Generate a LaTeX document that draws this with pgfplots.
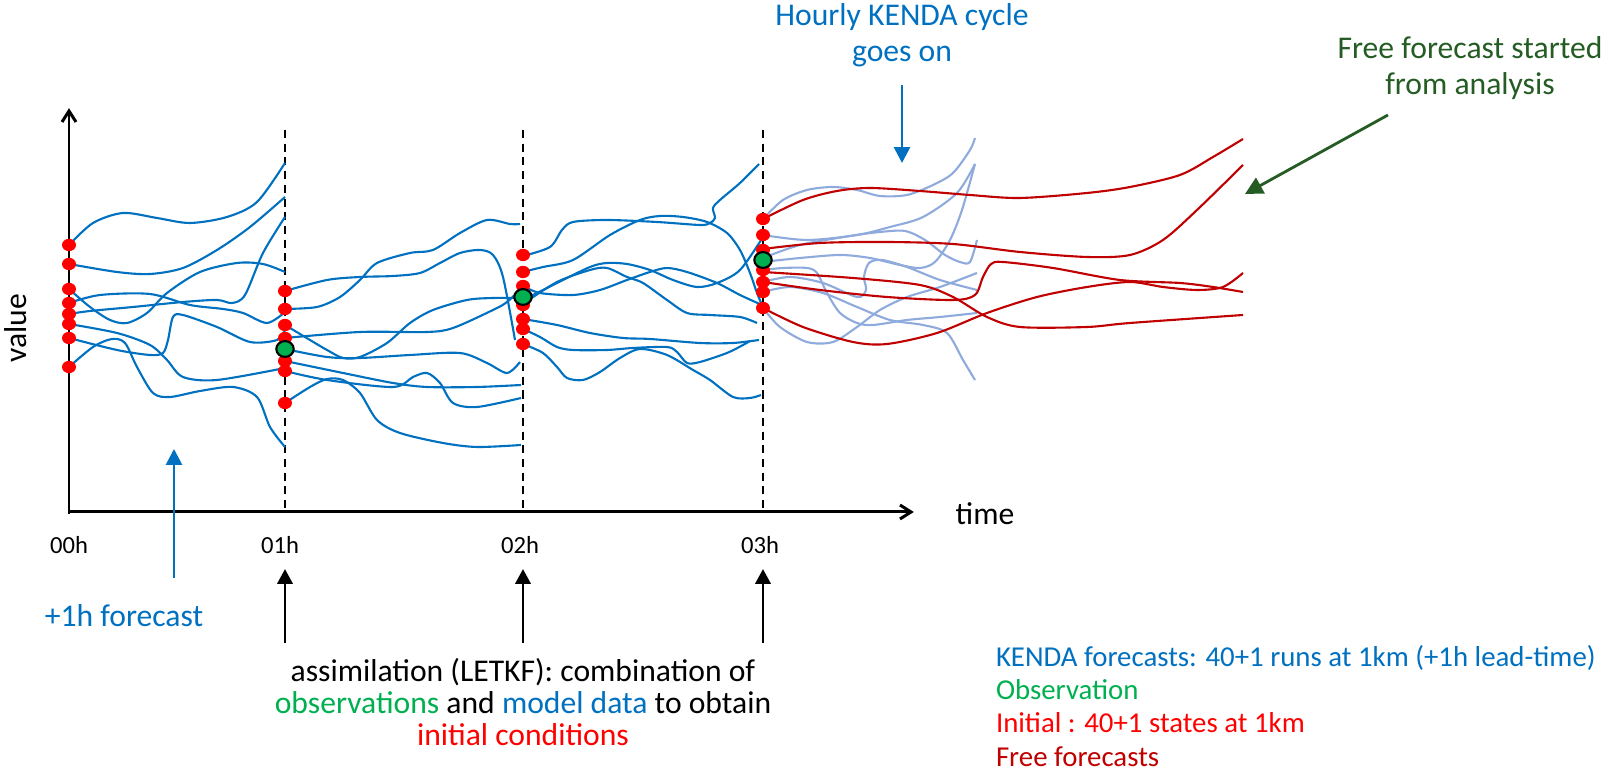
\documentclass[border=0pt]{standalone}
\usepackage{pgfplots}
\pgfplotsset{compat=1.18}
\usepackage{fontspec}
\setmainfont{Carlito}
\usetikzlibrary{arrows.meta}

\definecolor{kblue}{RGB}{0,112,192}
\definecolor{lblue}{RGB}{143,170,220}
\definecolor{fred}{RGB}{192,0,0}
\definecolor{rdot}{RGB}{255,0,0}
\definecolor{gobs}{RGB}{0,176,80}
\definecolor{dgreen}{RGB}{36,92,36}

\newcommand\fA{\fontsize{9}{10.5}\selectfont}
\newcommand\fT{\fontsize{7}{8}\selectfont}
\newcommand\fL{\fontsize{8.2}{9.4}\selectfont}

\begin{document}
\begin{tikzpicture}[every node/.style={inner sep=0pt, outer sep=0pt}]
\begin{axis}[
  width=16.18cm, height=7.74cm, scale only axis,
  xmin=0, xmax=1618, ymin=0, ymax=774, y dir=reverse,
  hide axis, clip=false,
  kenda/.style={kblue, smooth, line width=0.6pt, no markers},
  pale/.style={lblue, smooth, line width=0.6pt, no markers},
  free/.style={fred, smooth, line width=0.6pt, no markers},
]
% whole canvas
\path (axis cs:0,0) rectangle (axis cs:1618,774);
% time axis and value axis
\draw[line width=0.85pt] (axis cs:69,514) -- (axis cs:69,111);
\draw[line width=0.85pt] (axis cs:68,512) -- (axis cs:911,512);
\draw[line width=0.85pt] (axis cs:62,122) -- (axis cs:69,111) -- (axis cs:76,122);
\draw[line width=0.85pt] (axis cs:900,505) -- (axis cs:911,512) -- (axis cs:900,519);
% analysis times
\pgfplotsinvokeforeach{285,523,763}{
  \draw[line width=0.6pt, dash pattern=on 2.3pt off 1.6pt] (axis cs:#1,130) -- (axis cs:#1,511);
}

% 00h -> 01h
\addplot[kenda] coordinates {(69,245) (93,223) (123,213) (157,218) (190,223) (227,217) (257,202) (285,163)};
\addplot[kenda] coordinates {(69,264) (117,272) (150,274) (183,268) (217,250) (250,227) (285,197)};
\addplot[kenda] coordinates {(69,314) (90,311) (133,307) (183,302) (217,300) (232,303) (245,295) (263,253) (285,217)};
\addplot[kenda] coordinates {(69,289) (90,307) (110,320) (127,323) (147,313) (167,293) (200,272) (237,263) (263,264) (285,272)};
\addplot[kenda] coordinates {(69,303) (100,295) (150,294) (190,305) (223,309) (243,313) (267,323) (285,312)};
\addplot[kenda] coordinates {(69,324) (117,333) (150,345) (167,360) (183,377) (217,380) (285,368)};
\addplot[kenda] coordinates {(69,338) (117,350) (150,355) (163,353) (168,340) (173,317) (183,315) (217,327) (250,342) (277,340) (285,330)};
\addplot[kenda] coordinates {(69,367) (93,347) (112,339) (125,343) (137,367) (153,393) (170,397) (200,391) (233,387) (257,397) (270,427) (285,447)};

% 01h -> 02h
\addplot[kenda] coordinates {(285,291) (327,280) (360,277) (393,276) (420,273) (440,263) (460,253) (480,250) (493,255) (503,277) (515,340)};
\addplot[kenda] coordinates {(285,309) (317,307) (340,297) (360,280) (377,263) (410,253) (433,250) (460,233) (487,220) (510,224) (520,224)};
\addplot[kenda] coordinates {(285,325) (310,340) (327,350) (343,358) (360,357) (387,343) (410,323) (433,310) (467,300) (493,298) (523,298)};
\addplot[kenda] coordinates {(285,338) (360,332) (427,332) (453,328) (493,310) (507,302) (523,287)};
\addplot[kenda] coordinates {(285,349) (327,357) (360,358) (410,355) (460,353) (487,363) (507,373) (520,362)};
\addplot[kenda] coordinates {(285,361) (343,373) (393,383) (427,387) (477,387) (521,385)};
\addplot[kenda] coordinates {(285,371) (327,380) (393,387) (413,377) (427,373) (440,383) (453,403) (477,407) (521,398)};
\addplot[kenda] coordinates {(285,403) (310,387) (327,379) (343,380) (360,393) (377,420) (400,433) (443,443) (477,447) (521,445)};

% 02h -> 03h
\addplot[kenda] coordinates {(523,256) (550,247) (562,230) (573,222) (607,220) (657,222) (700,225) (710,223) (715,218) (713,208) (720,200) (740,183) (759,164)};
\addplot[kenda] coordinates {(523,272) (543,267) (573,260) (610,235) (640,220) (660,216) (683,217) (707,222) (727,233) (740,250) (750,273) (757,293) (762,305)};
\addplot[kenda] coordinates {(523,286) (540,293) (573,295) (600,290) (627,280) (650,272) (667,268) (687,272) (717,283) (740,295) (762,305)};
\addplot[kenda] coordinates {(523,300) (557,283) (590,267) (607,263) (627,264) (650,270) (673,280) (697,287) (717,283) (740,270) (763,237)};
\addplot[kenda] coordinates {(523,304) (557,282) (590,270) (607,268) (627,277) (643,283) (667,300) (687,313) (710,315) (740,317) (757,323)};
\addplot[kenda] coordinates {(523,319) (557,325) (590,333) (623,338) (650,339) (700,343) (733,343) (759,340)};
\addplot[kenda] coordinates {(523,329) (540,337) (557,347) (573,350) (607,350) (633,348) (667,347) (677,352) (687,363) (700,362) (727,353) (743,345) (750,341)};
\addplot[kenda] coordinates {(523,344) (543,353) (557,367) (567,378) (583,380) (600,372) (620,358) (640,349) (667,355) (693,370) (710,380) (733,397) (750,398) (761,395)};

% 03h -> : KENDA cycle goes on
\addplot[pale] coordinates {(763,219) (783,200) (807,190) (833,187) (857,190) (880,196) (907,195) (933,185) (953,173) (970,150) (975,138)};
\addplot[pale] coordinates {(763,235) (807,240) (857,235) (890,227) (923,217) (957,193) (975,164)};
\addplot[pale] coordinates {(763,258) (800,245) (850,236) (880,232) (905,231) (925,240) (945,255) (960,262) (970,262) (977,240)};
\addplot[pale] coordinates {(763,262) (800,258) (840,255) (870,258) (900,265) (920,268) (935,262) (950,240) (962,210) (975,164)};
\addplot[pale] coordinates {(763,270) (783,268) (807,268) (817,273) (827,293) (840,313) (857,323) (873,325) (907,320) (940,317) (977,313)};
\addplot[pale] coordinates {(763,282) (790,277) (823,283) (857,297) (866,290) (864,277) (869,263) (882,260) (907,267) (940,280) (977,290)};
\addplot[pale] coordinates {(763,292) (790,287) (823,293) (857,307) (890,320) (923,325) (947,333) (963,360) (975,380)};
\addplot[pale] coordinates {(763,308) (780,327) (807,342) (833,342) (857,327) (880,310) (907,297) (940,287) (977,273)};

% free forecasts
\addplot[free] coordinates {(763,219) (803,200) (837,191) (870,188) (920,191) (970,195) (1020,198) (1087,193) (1130,187) (1180,175) (1213,157) (1243,139)};
\addplot[free] coordinates {(763,249) (820,243) (887,242) (953,244) (1020,252) (1087,257) (1130,255) (1163,240) (1197,210) (1243,165)};
\addplot[free] coordinates {(763,272) (853,278) (920,285) (953,297) (987,317) (1020,327) (1087,327) (1130,323) (1243,315)};
\addplot[free] coordinates {(763,282) (820,290) (887,297) (953,300) (975,295) (983,277) (991,264) (1003,262) (1053,268) (1120,280) (1180,283) (1213,287) (1243,292)};
\addplot[free] coordinates {(763,308) (803,327) (853,342) (887,344) (937,333) (987,313) (1037,297) (1087,287) (1130,282) (1163,287) (1197,290) (1223,287) (1243,273)};

% initial states
\addplot[only marks, mark=*, mark size=1.55pt, rdot, mark options={xscale=1.15}] coordinates {
 (69,245) (69,264) (69,289) (69,303) (69,314) (69,324) (69,338) (69,367)
 (285,291) (285,309) (285,325) (285,338) (285,352) (285,361) (285,371) (285,403)
 (523,255) (523,272) (523,286) (523,300) (523,305) (523,319) (523,329) (523,344)
 (763,219) (763,235) (763,250) (763,263) (763,270) (763,282) (763,292) (763,308)};
% observations
\addplot[only marks, mark=*, mark size=2.25pt, fill=gobs, draw=black, line width=0.6pt, mark options={xscale=1.1}] coordinates {
 (285,349) (523,297) (763,260)};

% labels on the axes
\node[font=\fA, rotate=90] at (axis cs:16,328) {value};
\node[font=\fA, anchor=base] at (axis cs:985,525) {time};
\node[font=\fT, anchor=base] at (axis cs:69,554) {00h};
\node[font=\fT, anchor=base] at (axis cs:280,554) {01h};
\node[font=\fT, anchor=base] at (axis cs:520,554) {02h};
\node[font=\fT, anchor=base] at (axis cs:760,554) {03h};

% +1h forecast
\draw[kblue, line width=0.8pt, -{Triangle[length=4.5pt,width=4.5pt]}] (axis cs:174,578) -- (axis cs:174,449);
\node[font=\fA, text=kblue, anchor=base] at (axis cs:124,627) {+1h forecast};

% assimilation
\pgfplotsinvokeforeach{285,523,763}{
  \draw[line width=0.8pt, -{Triangle[length=4.2pt,width=4.3pt]}] (axis cs:#1,643) -- (axis cs:#1,569);
}
\node[font=\fA, anchor=base] at (axis cs:523,682) {assimilation (LETKF): combination of};
\node[font=\fA, anchor=base] at (axis cs:523,714) {\textcolor{gobs}{observations} and \textcolor{kblue}{model data} to obtain};
\node[font=\fA, anchor=base, text=rdot] at (axis cs:523,746) {initial conditions};

% hourly cycle
\node[font=\fA, anchor=base, text=kblue] at (axis cs:902,26) {Hourly KENDA cycle};
\node[font=\fA, anchor=base, text=kblue] at (axis cs:902,62) {goes on};
\draw[kblue, line width=0.8pt, -{Triangle[length=4.5pt,width=4.5pt]}] (axis cs:902,85) -- (axis cs:902,163);

% free forecast
\node[font=\fA, anchor=base, text=dgreen] at (axis cs:1470,59) {Free forecast started};
\node[font=\fA, anchor=base, text=dgreen] at (axis cs:1470,95) {from analysis};
\draw[dgreen, line width=0.8pt, -{Triangle[length=5pt,width=5pt]}] (axis cs:1388,115) -- (axis cs:1245,194);

% key
\node[font=\fL, anchor=base west, text=kblue] at (axis cs:996,667) {KENDA forecasts: 40+1 runs at 1km (+1h lead-time)};
\node[font=\fL, anchor=base west, text=gobs] at (axis cs:996,700) {Observation};
\node[font=\fL, anchor=base west, text=rdot] at (axis cs:996,733) {Initial : 40+1 states at 1km};
\node[font=\fL, anchor=base west, text=fred] at (axis cs:996,767) {Free forecasts};
\end{axis}
\end{tikzpicture}
\end{document}
